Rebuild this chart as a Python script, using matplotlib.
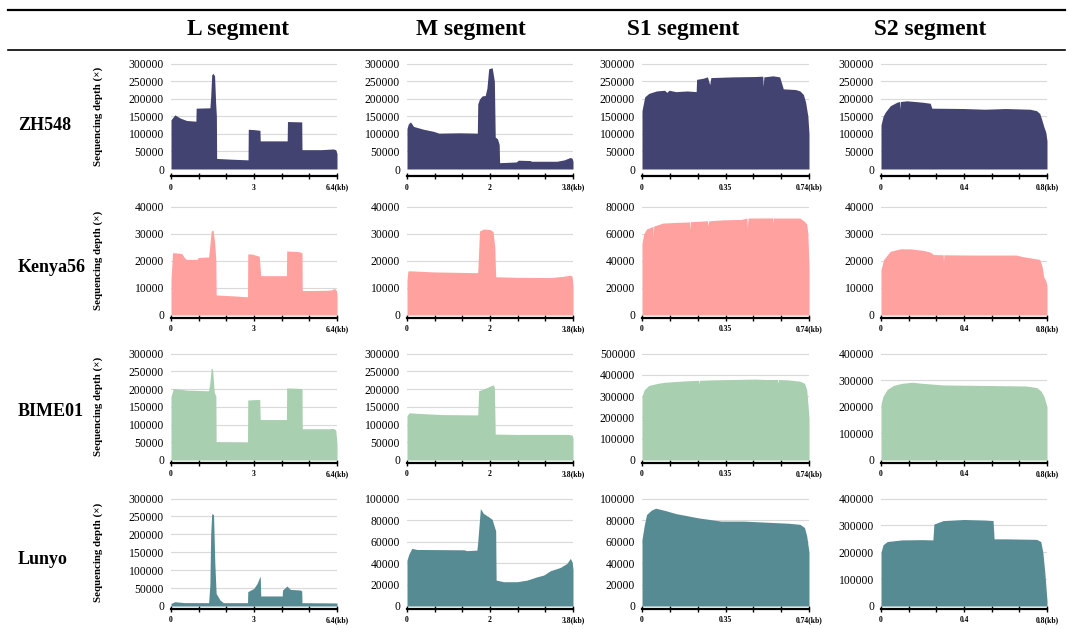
import matplotlib
matplotlib.use("Agg")
import matplotlib.pyplot as plt
from matplotlib.lines import Line2D
import numpy as np

plt.rcParams['font.family'] = ['Liberation Serif', 'DejaVu Serif']

# ---------------- data ----------------
segments = ["L segment", "M segment", "S1 segment", "S2 segment"]
strains = ["ZH548", "Kenya56", "BIME01", "Lunyo"]
seg_length_kb = [6.4, 3.8, 0.74, 0.8]
mid_tick_labels = ["3", "2", "0.35", "0.4"]
end_tick_labels = ["6.4(kb)", "3.8(kb)", "0.74(kb)", "0.8(kb)"]
strain_colors = ["#434371", "#FFA19F", "#A8CFAF", "#578B93"]
y_max = [[300000, 300000, 300000, 300000],
         [40000, 40000, 80000, 40000],
         [300000, 300000, 500000, 400000],
         [300000, 100000, 100000, 400000]]
y_step = [[50000, 50000, 50000, 50000],
          [10000, 10000, 20000, 10000],
          [50000, 50000, 100000, 100000],
          [50000, 20000, 20000, 100000]]

# ZH548
zh_L_kb = [0, 0.15, 0.35, 0.6, 0.96, 0.97, 1.50, 1.53, 1.57, 1.62, 1.68, 1.72, 1.75, 1.76, 2.3, 2.97, 2.98, 3.2, 3.43, 3.44, 4.48, 4.49, 5.04, 5.05, 5.8, 6.25, 6.35, 6.4]
zh_L_dp = [140000, 154000, 145000, 138000, 136000, 173000, 174000, 205000, 268000, 272000, 265000, 190000, 150000, 30000, 28000, 26000, 113000, 112000, 110000, 80000, 80000, 135000, 134000, 55000, 55000, 57000, 55000, 44000]
zh_M_kb = [0, 0.03, 0.08, 0.15, 0.38, 0.61, 0.73, 1.2, 1.61, 1.62, 1.66, 1.72, 1.79, 1.83, 1.87, 1.95, 2.00, 2.02, 2.07, 2.11, 2.12, 2.5, 2.55, 2.82, 2.85, 3.43, 3.6, 3.74, 3.78, 3.8]
zh_M_dp = [115000, 128000, 134000, 121000, 113000, 107000, 102000, 103000, 102000, 185000, 199000, 208000, 209000, 230000, 285000, 288000, 250000, 91000, 86000, 70000, 18000, 20000, 25000, 24000, 22000, 22000, 26000, 33000, 30000, 22000]
zh_S1_kb = [0, 0.012, 0.03, 0.064, 0.1, 0.11, 0.12, 0.15, 0.2, 0.24, 0.242, 0.27, 0.29, 0.30, 0.305, 0.4, 0.5, 0.535, 0.537, 0.54, 0.58, 0.61, 0.626, 0.68, 0.70, 0.715, 0.725, 0.735, 0.74]
zh_S1_dp = [166000, 205000, 215000, 222000, 224000, 218000, 224000, 220000, 222000, 220000, 255000, 258000, 262000, 240000, 260000, 262000, 263000, 264000, 235000, 262000, 265000, 262000, 228000, 226000, 222000, 212000, 190000, 150000, 100000]
zh_S2_kb = [0, 0.01, 0.021, 0.045, 0.077, 0.09, 0.092, 0.094, 0.125, 0.2, 0.237, 0.245, 0.4, 0.5, 0.6, 0.717, 0.749, 0.765, 0.775, 0.785, 0.794, 0.8]
zh_S2_dp = [125000, 150000, 162000, 180000, 190000, 192000, 170000, 192000, 194000, 190000, 187000, 173000, 172000, 170000, 172000, 170000, 166000, 158000, 140000, 120000, 105000, 80000]

# Kenya56
ke_L_kb = [0, 0.06, 0.41, 0.54, 0.6, 1.0, 1.05, 1.45, 1.5, 1.55, 1.62, 1.68, 1.73, 1.74, 2.5, 2.95, 2.96, 3.1, 3.4, 3.46, 4.45, 4.46, 4.9, 5.05, 5.06, 6.0, 6.2, 6.3, 6.38, 6.4]
ke_L_dp = [13000, 23000, 22700, 20900, 20500, 20500, 21200, 21400, 26000, 31000, 31300, 27000, 20000, 7400, 7000, 6700, 22500, 22500, 21700, 14500, 14500, 23600, 23400, 23000, 9000, 9100, 9300, 9800, 9000, 7400]
ke_M_kb = [0, 0.02, 0.06, 0.6, 1.6, 1.62, 1.66, 1.75, 1.9, 1.97, 2.01, 2.03, 2.5, 3.28, 3.6, 3.74, 3.78, 3.8]
ke_M_dp = [13000, 16200, 16300, 15900, 15600, 15800, 31000, 31700, 31500, 30800, 25000, 14100, 13900, 13800, 14300, 14700, 14200, 10700]
ke_S1_kb = [0, 0.008, 0.02, 0.049, 0.05, 0.052, 0.093, 0.15, 0.21, 0.212, 0.214, 0.29, 0.293, 0.296, 0.36, 0.44, 0.465, 0.467, 0.47, 0.58, 0.581, 0.583, 0.70, 0.72, 0.73, 0.735, 0.74]
ke_S1_dp = [53000, 60000, 63400, 65400, 57000, 65600, 67800, 68300, 68600, 63000, 68800, 69500, 66000, 69500, 70200, 70500, 71500, 64000, 71500, 71600, 67000, 71500, 71500, 69000, 67000, 60000, 36000]
ke_S2_kb = [0, 0.013, 0.045, 0.093, 0.14, 0.205, 0.237, 0.253, 0.3, 0.301, 0.303, 0.45, 0.653, 0.685, 0.765, 0.776, 0.784, 0.795, 0.8]
ke_S2_dp = [16800, 20500, 23500, 24400, 24400, 23800, 23200, 22300, 22200, 19300, 22200, 22100, 22100, 21500, 20500, 18000, 14100, 12500, 10700]

# BIME01
bi_L_kb = [0, 0.09, 0.6, 1.45, 1.5, 1.55, 1.6, 1.67, 1.73, 1.74, 2.5, 2.95, 2.96, 3.2, 3.42, 3.44, 4.45, 4.46, 4.9, 5.05, 5.06, 6.1, 6.25, 6.35, 6.4]
bi_L_dp = [178000, 201500, 197000, 195000, 220000, 258000, 257000, 190000, 180000, 51500, 50500, 49700, 169000, 170000, 170600, 114000, 114000, 203000, 202000, 201000, 88000, 88000, 89000, 85000, 47000]
bi_M_kb = [0, 0.05, 0.3, 0.8, 1.6, 1.62, 1.64, 1.75, 1.9, 1.97, 2.0, 2.02, 2.5, 3.2, 3.7, 3.78, 3.8]
bi_M_dp = [125000, 133000, 131000, 128000, 127000, 128000, 195000, 200000, 208000, 212000, 205000, 73000, 72000, 72000, 72000, 70000, 62000]
bi_S1_kb = [0, 0.01, 0.03, 0.07, 0.1, 0.2, 0.25, 0.252, 0.254, 0.3, 0.4, 0.5, 0.55, 0.6, 0.602, 0.604, 0.65, 0.70, 0.72, 0.73, 0.74]
bi_S1_dp = [300000, 330000, 350000, 360000, 365000, 372000, 374000, 355000, 374000, 376000, 378000, 380000, 378000, 378000, 360000, 378000, 376000, 370000, 360000, 330000, 200000]
bi_S2_kb = [0, 0.01, 0.03, 0.06, 0.1, 0.15, 0.2, 0.3, 0.5, 0.7, 0.75, 0.77, 0.785, 0.8]
bi_S2_dp = [210000, 240000, 265000, 280000, 288000, 292000, 288000, 282000, 280000, 278000, 272000, 260000, 240000, 200000]

# Lunyo
lu_L_kb = [0, 0.15, 0.5, 1.45, 1.5, 1.53, 1.57, 1.64, 1.69, 1.74, 1.89, 2.02, 2.95, 2.96, 3.19, 3.32, 3.44, 3.46, 4.29, 4.30, 4.47, 4.60, 4.98, 5.04, 5.05, 6.4]
lu_L_dp = [7400, 12000, 9500, 9300, 60000, 200000, 258000, 255000, 119000, 35000, 16700, 9300, 9300, 40000, 49000, 63000, 84000, 28000, 28000, 44600, 55700, 46400, 44600, 42000, 9300, 8500]
lu_M_kb = [0, 0.04, 0.11, 0.23, 0.6, 1.3, 1.37, 1.6, 1.62, 1.68, 1.75, 1.87, 1.95, 2.0, 2.03, 2.04, 2.21, 2.52, 2.75, 2.98, 3.13, 3.28, 3.51, 3.66, 3.74, 3.78, 3.8]
lu_M_dp = [42700, 48000, 53600, 52600, 52500, 52300, 51500, 52000, 60000, 90700, 86100, 83000, 80500, 73700, 70000, 24100, 22600, 22600, 24100, 27200, 28800, 32800, 35900, 39600, 44300, 41000, 34000]
lu_S1_kb = [0, 0.01, 0.02, 0.04, 0.06, 0.1, 0.15, 0.2, 0.25, 0.35, 0.45, 0.55, 0.65, 0.7, 0.72, 0.73, 0.74]
lu_S1_dp = [62000, 75000, 85000, 89000, 91000, 89000, 86000, 84000, 82000, 79000, 79000, 78000, 77000, 76000, 73000, 65000, 50000]
lu_S2_kb = [0, 0.01, 0.03, 0.1, 0.2, 0.25, 0.255, 0.3, 0.4, 0.5, 0.54, 0.545, 0.6, 0.75, 0.77, 0.78, 0.79, 0.8]
lu_S2_dp = [200000, 228000, 240000, 246000, 247000, 246000, 305000, 318000, 322000, 320000, 318000, 250000, 250000, 248000, 240000, 200000, 120000, 20000]

profiles = [
    [(zh_L_kb, zh_L_dp), (zh_M_kb, zh_M_dp), (zh_S1_kb, zh_S1_dp), (zh_S2_kb, zh_S2_dp)],
    [(ke_L_kb, ke_L_dp), (ke_M_kb, ke_M_dp), (ke_S1_kb, ke_S1_dp), (ke_S2_kb, ke_S2_dp)],
    [(bi_L_kb, bi_L_dp), (bi_M_kb, bi_M_dp), (bi_S1_kb, bi_S1_dp), (bi_S2_kb, bi_S2_dp)],
    [(lu_L_kb, lu_L_dp), (lu_M_kb, lu_M_dp), (lu_S1_kb, lu_S1_dp), (lu_S2_kb, lu_S2_dp)],
]

# ---------------- layout (pixels) ----------------
W, H = 1068, 629
fig = plt.figure(figsize=(W / 100, H / 100), dpi=100)
fig.patch.set_facecolor("white")

col_x = [(171, 337), (407, 573), (642, 809), (881, 1047)]
row_y = [(63, 169), (206, 315), (353, 460), (498, 606)]
axis_offset = [5, 2, 2, 2]

def px_rect(x0, x1, yt, yb):
    return [x0 / W, 1 - yb / H, (x1 - x0) / W, (yb - yt) / H]

for r in range(4):
    for c in range(4):
        x0, x1 = col_x[c]
        yt, yb = row_y[r]
        ax = fig.add_axes(px_rect(x0, x1, yt, yb))
        for s in ["top", "right", "left"]:
            ax.spines[s].set_visible(False)
        ax.spines["bottom"].set_linewidth(1.6)
        ax.spines["bottom"].set_position(("outward", axis_offset[r]))

        kb, dp = profiles[r][c]
        ax.fill_between(kb, dp, 0, color=strain_colors[r], lw=0)
        L = seg_length_kb[c]
        ax.set_xlim(0, L)
        ym = y_max[r][c]
        ax.set_ylim(0, ym * 1.005)
        yt_vals = np.arange(0, ym + 1, y_step[r][c])
        ax.set_yticks(yt_vals)
        ax.set_yticklabels([str(int(v)) for v in yt_vals], fontsize=8.4)
        ax.grid(axis="y", color="#d9d9d9", lw=0.8)
        ax.set_axisbelow(True)
        ax.tick_params(axis="y", length=0, pad=5)
        ticks = np.linspace(0, L, 7)
        labels = ["0", "", "", mid_tick_labels[c], "", "", end_tick_labels[c]]
        ax.set_xticks(ticks)
        ax.set_xticklabels(labels, fontsize=5.5, fontweight="bold")
        ax.tick_params(axis="x", direction="inout", length=5, width=1.0,
                       pad=3, color="black", labelsize=5.5)
        if c == 0:
            ax.set_ylabel("Sequencing depth (\u00d7)", fontsize=7.8,
                          fontweight="bold")
            ax.yaxis.set_label_coords(-68 / (x1 - x0), 0.5)

# header rules
fig.add_artist(Line2D([8 / W, 1065 / W], [1 - 10 / H, 1 - 10 / H],
                      color="black", lw=1.6))
fig.add_artist(Line2D([8 / W, 1065 / W], [1 - 50 / H, 1 - 50 / H],
                      color="black", lw=1.2))

header_x = [238, 471, 683, 930]
for name, hx in zip(segments, header_x):
    fig.text(hx / W, 1 - 30 / H, name, ha="center", va="center",
             fontsize=16.8, fontweight="bold")

row_label_y = [125, 268, 411, 560]
for name, ry in zip(strains, row_label_y):
    fig.text(18 / W, 1 - ry / H, name, ha="left", va="center",
             fontsize=13, fontweight="bold")

fig.savefig("out.png", dpi=100, facecolor="white")
